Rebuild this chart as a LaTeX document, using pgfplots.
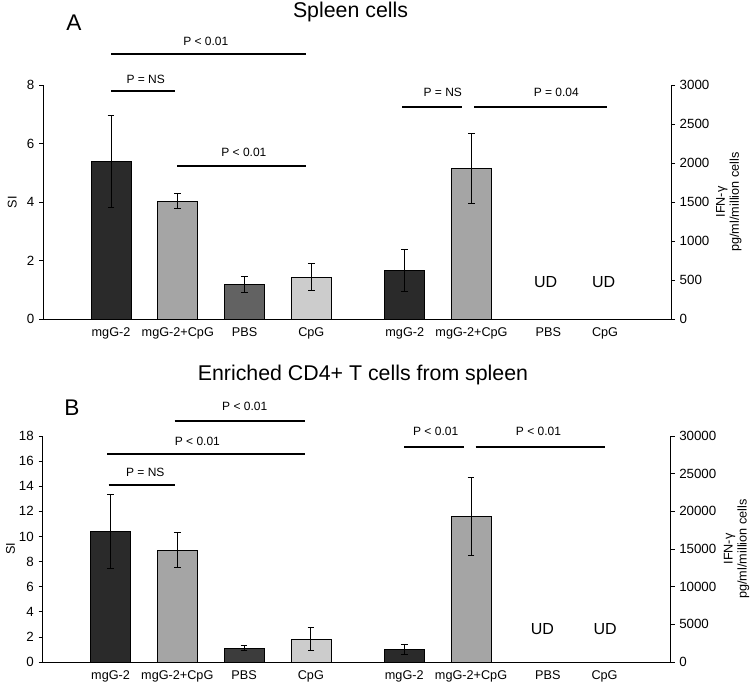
\documentclass[border=0pt]{standalone}
\usepackage{fontspec}
\setmainfont{Liberation Sans}
\usepackage{pgfplots}
\pgfplotsset{compat=1.18}
\definecolor{cdark}{HTML}{2A2A2A}
\definecolor{cmid}{HTML}{A5A5A5}
\definecolor{cpbsA}{HTML}{626262}
\definecolor{cpbsB}{HTML}{3C3C3C}
\definecolor{clight}{HTML}{CCCCCC}
\pgfplotsset{
  base/.style={
    scale only axis, width=471pt, clip=false,
    xmin=-1.019, xmax=8.388, ymin=0,
    /pgf/number format/assume math mode=true,
    /pgf/number format/set thousands separator={},
    scaled y ticks=false,
    tick label style={font=\fontsize{9.5}{11}\selectfont},
    yticklabel style={font=\fontsize{10}{11}\selectfont},
    label style={font=\fontsize{9.5}{10.5}\selectfont},
    axis line style={line width=0.75pt},
    tick style={black, line width=0.6pt},
    tick align=outside, major tick length=3pt,
    ybar, bar width=30pt, bar shift=0pt,
    every axis plot/.append style={draw=black, line width=0.5pt},
    error bars/y dir=both, error bars/y explicit,
    error bars/error mark options={rotate=90, mark size=2.5pt, line width=0.6pt},
    error bars/error bar style={line width=0.6pt},
  },
  leftax/.style={base,
    axis x line*=bottom, axis y line*=left, ytick pos=left,
    xtick={0,1,2,3,4.4,5.4,6.55,7.4},
    xticklabels={mgG-2,mgG-2+CpG,PBS,CpG,mgG-2,mgG-2+CpG,PBS,CpG},
    xtick style={draw=none},
    ylabel={SI},
  },
  rightax/.style={base,
    axis x line=none, axis y line*=right, ytick pos=right,
  },
}
\newcommand{\pfont}{\fontsize{9}{10}\selectfont}
\tikzset{sig/.style={line width=1.4pt},
  ud/.style={font=\fontsize{12}{14}\selectfont}}
\begin{document}
\begin{tikzpicture}
\useasboundingbox (0,0) rectangle (562.5pt,-515.25pt);
% ---------------- Panel A ----------------
\node[anchor=base, font=\fontsize{16}{19}\selectfont] at (262.9pt,-12.75pt) {Spleen cells};
\node[anchor=base, font=\fontsize{17}{20}\selectfont] at (55.5pt,-23pt) {A};
\begin{axis}[leftax, at={(32.25pt,-239.25pt)}, anchor=south west, height=175.5pt,
  ymax=8, ytick={0,2,4,6,8},
  ylabel style={at={(axis description cs:-0.049,0.5)}, anchor=center}]
\addplot[fill=cdark] coordinates {(0,5.39) += (0,1.56) -= (0,1.57)};
\addplot[fill=cmid] coordinates {(1,4.02) += (0,0.28) -= (0,0.25)};
\addplot[fill=cpbsA] coordinates {(2,1.19) += (0,0.28) -= (0,0.29)};
\addplot[fill=clight] coordinates {(3,1.44) += (0,0.45) -= (0,0.47)};
\draw[sig] (axis cs:0,9.06) -- (axis cs:2.92,9.06);
\node[font=\pfont] at (axis cs:1.42,9.5) {P < 0.01};
\draw[sig] (axis cs:0,7.79) -- (axis cs:0.96,7.79);
\node[font=\pfont] at (axis cs:0.52,8.21) {P = NS};
\draw[sig] (axis cs:0.99,5.23) -- (axis cs:2.92,5.23);
\node[font=\pfont] at (axis cs:1.99,5.71) {P < 0.01};
\end{axis}
\begin{axis}[rightax, at={(32.25pt,-239.25pt)}, anchor=south west, height=175.5pt,
  ymax=3000, ytick={0,500,...,3000},
  ylabel={IFN-γ\\pg/ml/million cells},
  ylabel style={at={(axis description cs:1.092,0.5)}, anchor=center, align=center}]
\addplot[fill=cdark] coordinates {(4.4,628) += (0,265) -= (0,278)};
\addplot[fill=cmid] coordinates {(5.4,1927) += (0,453) -= (0,444)};
\node[ud] at (axis cs:6.51,470) {UD};
\node[ud] at (axis cs:7.38,470) {UD};
\draw[sig] (axis cs:4.36,2718) -- (axis cs:5.26,2718);
\node[font=\pfont] at (axis cs:4.97,2910) {P = NS};
\draw[sig] (axis cs:5.44,2718) -- (axis cs:7.43,2718);
\node[font=\pfont] at (axis cs:6.67,2910) {P = 0.04};
\end{axis}
% ---------------- Panel B ----------------
\node[anchor=base, font=\fontsize{16}{19}\selectfont] at (272.25pt,-285pt) {Enriched CD4+ T cells from spleen};
\node[anchor=base, font=\fontsize{17}{20}\selectfont] at (54pt,-311.25pt) {B};
\begin{axis}[leftax, at={(31.9pt,-496.5pt)}, anchor=south west, height=169.5pt,
  ymax=18, ytick={0,2,...,18},
  ylabel style={at={(axis description cs:-0.051,0.5)}, anchor=center}]
\addplot[fill=cdark] coordinates {(0,10.40) += (0,2.91) -= (0,2.98)};
\addplot[fill=cmid] coordinates {(1,8.91) += (0,1.38) -= (0,1.38)};
\addplot[fill=cpbsB] coordinates {(2,1.09) += (0,0.21) -= (0,0.19)};
\addplot[fill=clight] coordinates {(3,1.81) += (0,0.92) -= (0,0.88)};
\draw[sig] (axis cs:0.96,19.2) -- (axis cs:2.92,19.2);
\node[font=\pfont] at (axis cs:2.01,20.37) {P < 0.01};
\draw[sig] (axis cs:-0.05,16.55) -- (axis cs:2.92,16.55);
\node[font=\pfont] at (axis cs:1.30,17.58) {P < 0.01};
\draw[sig] (axis cs:-0.03,14.1) -- (axis cs:0.97,14.1);
\node[font=\pfont] at (axis cs:0.52,15.14) {P = NS};
\end{axis}
\begin{axis}[rightax, at={(31.9pt,-496.5pt)}, anchor=south west, height=169.5pt,
  ymax=30000, ytick={0,5000,...,30000},
  ylabel={IFN-γ\\pg/ml/million cells},
  ylabel style={at={(axis description cs:1.105,0.5)}, anchor=center, align=center}]
\addplot[fill=cdark] coordinates {(4.4,1626) += (0,660) -= (0,622)};
\addplot[fill=cmid] coordinates {(5.4,19335) += (0,5195) -= (0,5245)};
\node[ud] at (axis cs:6.47,4400) {UD};
\node[ud] at (axis cs:7.41,4400) {UD};
\draw[sig] (axis cs:4.40,28500) -- (axis cs:5.29,28500);
\node[font=\pfont] at (axis cs:4.87,30580) {P < 0.01};
\draw[sig] (axis cs:5.47,28500) -- (axis cs:7.40,28500);
\node[font=\pfont] at (axis cs:6.41,30580) {P < 0.01};
\end{axis}
\end{tikzpicture}
\end{document}
